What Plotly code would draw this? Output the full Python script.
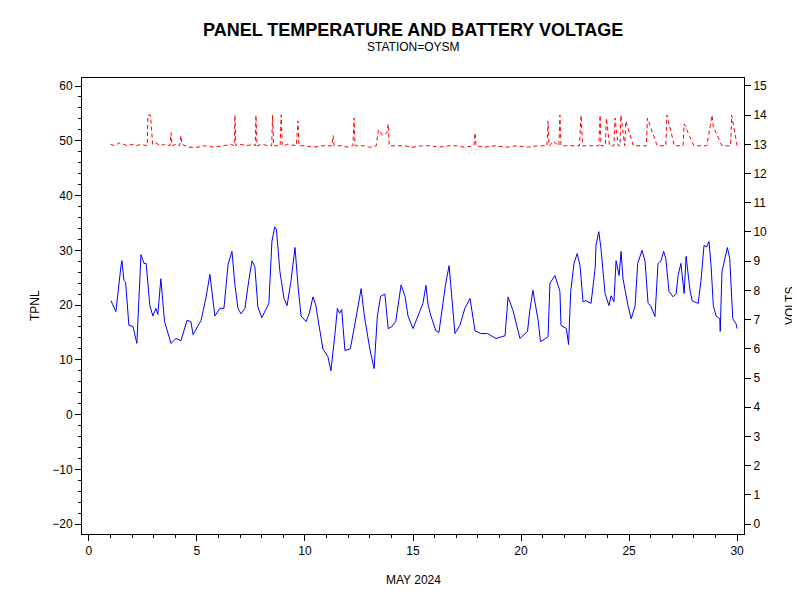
import plotly.graph_objects as gr

# panel temperature (deg) vs day of May 2024
temp_day = [1.02, 1.25, 1.48, 1.53, 1.62, 1.7, 1.85, 2.04, 2.22, 2.41, 2.55, 2.65, 2.82, 2.96, 3.1, 3.19,
            3.33, 3.5, 3.8, 4.03, 4.26, 4.54, 4.72, 4.82, 5.19, 5.42, 5.6, 5.83, 6.06, 6.25, 6.44, 6.57,
            6.62, 6.76, 6.9, 7.04, 7.22, 7.4, 7.55, 7.68, 7.82, 8.0, 8.2, 8.33, 8.47, 8.6, 8.68, 8.84,
            9.03, 9.17, 9.35, 9.54, 9.68, 9.82, 10.05, 10.2, 10.37, 10.5, 10.6, 10.83, 11.06, 11.2, 11.39,
            11.5, 11.6, 11.7, 11.85, 12.1, 12.4, 12.6, 12.75, 13.0, 13.2, 13.35, 13.5, 13.7, 13.85, 14.0,
            14.2, 14.45, 14.63, 14.77, 15.0, 15.23, 15.46, 15.6, 15.7, 15.83, 16.06, 16.2, 16.4, 16.5,
            16.67, 16.76, 16.94, 17.17, 17.4, 17.64, 17.87, 18.15, 18.45, 18.84, 19.26, 19.4, 19.63,
            19.95, 20.3, 20.4, 20.55, 20.8, 20.9, 21.25, 21.34, 21.57, 21.8, 21.85, 22.1, 22.2, 22.3,
            22.45, 22.6, 22.73, 22.87, 23.0, 23.24, 23.43, 23.47, 23.6, 23.7, 23.89, 24.07, 24.17, 24.3,
            24.4, 24.54, 24.63, 24.72, 24.95, 25.1, 25.28, 25.4, 25.6, 25.74, 25.88, 26.0, 26.2, 26.34,
            26.48, 26.6, 26.7, 26.85, 27.04, 27.18, 27.27, 27.4, 27.55, 27.64, 27.82, 27.92, 28.2, 28.33,
            28.47, 28.58, 28.7, 28.8, 28.9, 29.03, 29.2, 29.22, 29.3, 29.44, 29.55, 29.66, 29.8, 29.95, 30.0]
temp_val = [20.8, 18.8, 27.0, 28.1, 24.5, 24.2, 16.3, 16.1, 13.0, 29.2, 27.6, 27.6, 19.9, 18.0, 19.4, 18.3,
            24.8, 17.0, 13.0, 13.9, 13.5, 17.2, 17.0, 14.6, 17.2, 21.4, 25.6, 18.0, 19.4, 19.4, 27.4, 29.0,
            29.8, 23.6, 19.4, 18.4, 19.4, 24.5, 28.1, 27.0, 19.7, 17.7, 19.4, 20.3, 31.6, 34.3, 33.8, 26.1,
            21.2, 19.9, 24.3, 30.5, 23.4, 18.0, 17.0, 18.5, 21.5, 20.0, 17.5, 12.0, 10.6, 8.0, 14.8,
            19.4, 18.5, 19.2, 11.7, 12.0, 18.5, 23.0, 18.0, 12.0, 8.4, 18.0, 21.6, 22.0, 15.7, 16.0,
            17.0, 23.7, 21.6, 18.0, 15.7, 18.0, 20.3, 23.6, 20.0, 18.0, 15.3, 15.0, 20.6, 23.6,
            27.2, 22.5, 14.8, 16.3, 19.4, 21.2, 15.3, 14.8, 14.8, 13.9, 14.4, 21.5, 19.0,
            13.9, 15.2, 18.8, 22.7, 17.0, 13.3, 14.2, 24.0, 25.4, 22.5, 16.3, 15.7, 12.8, 22.5,
            27.6, 29.4, 27.2, 20.6, 20.8, 20.3, 26.7, 30.9, 33.4, 30.3, 22.1, 19.9, 21.7, 20.6,
            28.1, 25.4, 29.8, 24.8, 19.9, 17.5, 19.9, 27.6, 30.0, 28.0, 20.3, 19.9, 17.9, 27.6,
            28.1, 29.8, 28.5, 22.5, 21.5, 22.1, 25.4, 27.6, 22.1, 28.9, 22.7, 20.8, 20.3, 24.5,
            30.9, 30.6, 31.6, 27.0, 19.9, 18.0, 17.5, 15.2, 26.1, 28.5, 30.5, 28.5, 17.5, 16.6, 15.7]

# battery voltage (V) vs day
volt_day = [1.0, 1.2, 1.4, 1.6, 1.8, 2.0, 2.2, 2.4, 2.6, 2.7, 2.73, 2.85, 2.95, 3.1, 3.3, 3.5, 3.75, 3.8, 3.85,
            4.0, 4.2, 4.26, 4.3, 4.6, 5.0, 5.4, 5.8, 6.2, 6.6, 6.72, 6.76, 6.8, 7.0, 7.3, 7.6, 7.7, 7.73, 7.78,
            8.0, 8.3, 8.46, 8.5, 8.55, 8.85, 8.9, 8.95, 9.2, 9.6, 9.68, 9.72, 10.0, 10.4, 10.8, 11.25, 11.3,
            11.35, 11.7, 12.0, 12.22, 12.27, 12.32, 12.7, 13.0, 13.3, 13.4, 13.6, 13.8, 13.85, 13.9, 14.2,
            14.6, 15.0, 15.4, 15.8, 16.2, 16.6, 17.0, 17.4, 17.82, 17.87, 17.92, 18.3, 18.8, 19.3, 19.8,
            20.3, 20.8, 21.2, 21.25, 21.3, 21.5, 21.75, 21.8, 21.85, 22.2, 22.7, 22.78, 22.85, 23.2, 23.6,
            23.66, 23.7, 23.9, 23.95, 24.1, 24.3, 24.35, 24.5, 24.58, 24.62, 24.8, 24.85, 25.2, 25.6,
            25.8, 25.85, 26.3, 26.65, 26.7, 26.75, 27.1, 27.45, 27.5, 27.55, 28.0, 28.55, 28.6, 28.84,
            28.9, 29.3, 29.65, 29.7, 29.75, 30.0]
volt_val = [13.0, 12.95, 13.05, 13.0, 12.95, 13.0, 12.95, 13.0, 12.95, 12.95, 14.0, 14.0, 13.0, 13.05, 12.95,
            13.0, 12.95, 13.4, 12.95, 13.0, 12.95, 13.3, 13.0, 12.9, 12.9, 12.95, 12.9, 12.95, 13.0, 12.95,
            14.0, 12.95, 13.0, 12.95, 13.0, 12.95, 14.0, 12.95, 13.0, 12.95, 12.95, 14.0, 12.95, 12.95, 14.0,
            12.95, 13.0, 12.95, 13.8, 12.95, 12.95, 12.9, 12.95, 12.95, 13.3, 12.95, 12.95, 12.9, 12.95,
            13.9, 12.95, 12.95, 12.9, 12.95, 13.5, 13.3, 13.4, 13.7, 12.95, 12.95, 12.95, 12.9, 12.95,
            12.95, 12.9, 12.95, 12.95, 12.9, 12.95, 13.4, 12.95, 12.9, 12.95, 12.9, 12.95, 12.9, 12.95,
            12.95, 13.8, 12.95, 13.1, 12.95, 14.0, 12.95, 12.95, 12.95, 14.0, 12.95, 12.95, 12.95, 14.0,
            12.95, 12.95, 13.9, 12.95, 12.95, 13.9, 12.95, 12.95, 14.0, 12.95, 13.8, 12.95, 12.95, 12.95,
            13.9, 12.95, 12.95, 12.95, 14.0, 12.95, 12.95, 12.95, 13.7, 12.95, 12.95, 12.95, 14.0, 13.6,
            12.95, 12.95, 12.95, 14.0, 12.95, 12.9]

fig = gr.Figure()
fig.add_trace(gr.Scatter(x=temp_day, y=temp_val, mode='lines', line=dict(color='blue', width=1),
                         name='TPNL'))
fig.add_trace(gr.Scatter(x=volt_day, y=volt_val, mode='lines', yaxis='y2',
                         line=dict(color='red', width=1, dash='4px,3px'), name='VOLTS'))

axis_style = dict(showline=True, linecolor='black', linewidth=1, ticks='outside', ticklen=6,
                  tickcolor='black', showgrid=False, zeroline=False, automargin=False,
                  tickfont=dict(family='Liberation Sans', size=12, color='black'))

txt = dict(family='Liberation Sans', size=12, color='black')
fig.update_layout(
    width=800, height=600, showlegend=False,
    plot_bgcolor='white', paper_bgcolor='white',
    margin=dict(l=74, r=64, t=70, b=74, autoexpand=False),
    font=txt,
    xaxis=dict(range=[-0.32, 30.32], tickvals=[0, 5, 10, 15, 20, 25, 30], mirror=True,
               minor=dict(ticks='outside', ticklen=3, dtick=1, tickcolor='black'), **axis_style),
    yaxis=dict(range=[-21.8, 61.46], tickvals=list(range(-20, 70, 10)),
               minor=dict(ticks='outside', ticklen=3, dtick=2, tickcolor='black'), **axis_style),
    yaxis2=dict(range=[-0.34, 15.27], tickvals=list(range(0, 16)), overlaying='y', side='right',
                **axis_style),
    annotations=[
        dict(text='<b>PANEL TEMPERATURE AND BATTERY VOLTAGE</b>', x=0.5, y=1.0, xref='paper', yref='paper',
             yshift=60, showarrow=False, font=dict(family='Liberation Sans', size=18, color='black')),
        dict(text='STATION=OYSM', x=0.5, y=1.0, xref='paper', yref='paper', yshift=40,
             showarrow=False, font=txt),
        dict(text='MAY 2024', x=0.5, y=0, xref='paper', yref='paper', yshift=-55,
             showarrow=False, font=txt),
        dict(text='TPNL', x=0, y=0.5, xref='paper', yref='paper', xshift=-56, textangle=-90,
             showarrow=False, font=txt),
        dict(text='VOLTS', x=1, y=0.5, xref='paper', yref='paper', xshift=55, textangle=-90,
             showarrow=False, font=txt),
    ],
)

fig.write_html("out.html")
